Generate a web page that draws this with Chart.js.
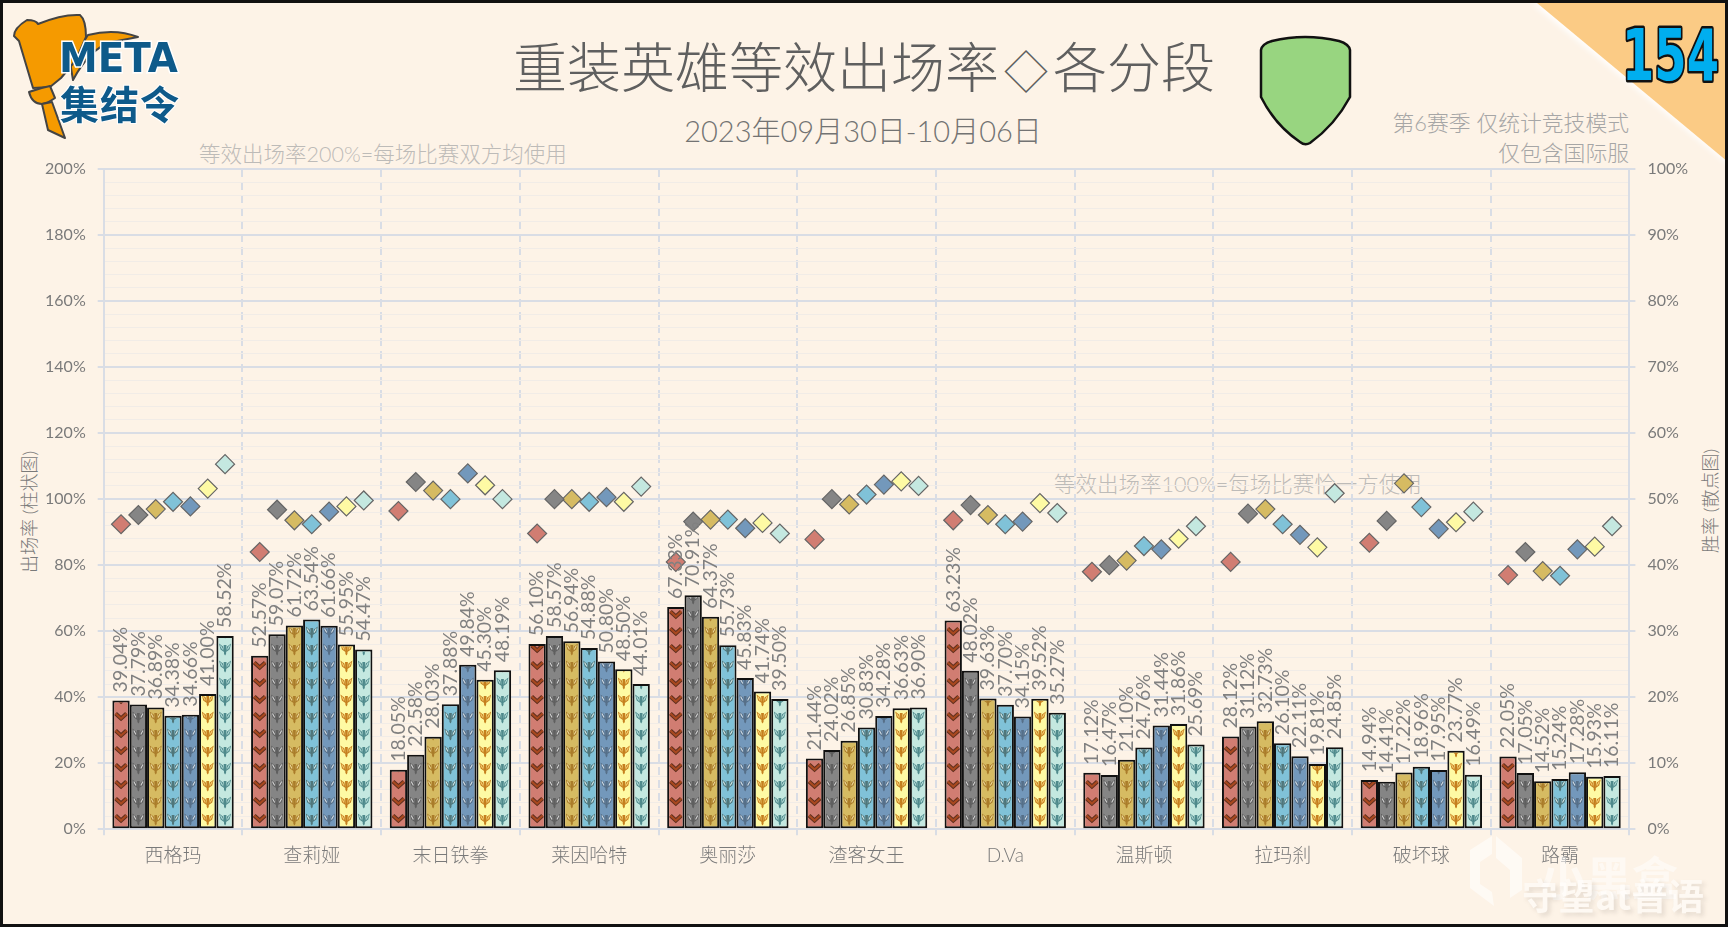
<!DOCTYPE html>
<html lang="zh">
<head>
<meta charset="utf-8">
<title>重装英雄等效出场率</title>
<script src="https://cdn.jsdelivr.net/npm/chart.js@4"></script>
<style>
  html, body { margin: 0; padding: 0; background: #fdf3e7; }
  body { width: 1728px; height: 927px; overflow: hidden; position: relative;
         font-family: Lato, "Noto Sans CJK SC", sans-serif; font-weight: 300; }
  .t { position: absolute; white-space: nowrap; line-height: 1; }
  .mid { transform: translate(-50%, -50%); }
  .rgt { transform: translate(-100%, -50%); }
  .rot { transform: translate(-50%, -50%) rotate(-90deg); }
  canvas { position: absolute; left: 0; top: 0; }
  svg { position: absolute; left: 0; top: 0; }
  #frame { position: absolute; inset: 0; border: 3px solid #111; box-sizing: border-box; }
</style>
</head>
<body>

<div class="t mid" style="left:864px;top:68px;font-size:54px;color:#5f5f5f">重装英雄等效出场率<span style="font-size:44px;margin:0 5px">◇</span>各分段</div>
<div class="t mid" style="left:863px;top:130px;font-size:29px;color:#737373">2023年09月30日-10月06日</div>
<div class="t" style="left:199px;top:144px;font-size:21.5px;color:#bdbbb8">等效出场率200%=每场比赛双方均使用</div>
<div class="t" style="left:1054px;top:474px;font-size:21.5px;color:#bdbbb8">等效出场率100%=每场比赛恰一方使用</div>
<div class="t rgt" style="left:1629px;top:123px;font-size:21.8px;color:#a6a6a6">第6赛季 仅统计竞技模式</div>
<div class="t rgt" style="left:1629px;top:153px;font-size:21.8px;color:#a6a6a6">仅包含国际服</div>
<div class="t rot" style="left:29px;top:512px;font-size:18px;color:#7a7a7a">出场率 (柱状图)</div>
<div class="t rot" style="left:1710px;top:501px;font-size:18px;color:#7a7a7a">胜率 (散点图)</div>

<canvas id="metaChart" width="1728" height="927"></canvas>

<svg width="1728" height="927" viewBox="0 0 1728 927">
  <defs><filter id="soft"><feGaussianBlur stdDeviation="3"/></filter></defs>
  <!-- corner -->
  <polygon points="1532,3 1728,3 1728,164" fill="#fff" filter="url(#soft)"/>
  <polygon points="1537,3 1728,3 1728,162" fill="#fbcb85"/>
  <text x="1622" y="80" textLength="97" lengthAdjust="spacingAndGlyphs" font-family="DejaVu Sans" font-weight="700" font-size="71"
        fill="#00aeef" stroke="#111" stroke-width="5" paint-order="stroke" stroke-linejoin="round">154</text>
  <!-- shield -->
  <path d="M1261,50 Q1262,44 1272,41 Q1305,33 1339,41 Q1349,44 1350,50 L1350,97 Q1335,125 1310,143 Q1305,146 1300,142 Q1275,125 1261,97 Z"
        fill="#98d580" stroke="#111" stroke-width="2.5"/>
  <!-- logo -->
  <g fill="#f59a00" stroke="#444" stroke-width="2" stroke-linejoin="round">
    <path d="M88,35 Q115,28 138,37 L112,42 Q90,48 73,80 L70,62 Z"/>
    <path d="M19,41 L14,36 Q14,28 27,20 Q36,20 38,24 Q62,14 80,15 Q86,20 86,37 L76,60 L61,78 L50,87 L33,88 Z"/>
    <path d="M29,92 Q40,88 50,86 L55,98 Q48,103 42,104 Q32,104 29,92 Z"/>
    <path d="M42,104 L52,102 L65,138 L48,130 Z"/>
  </g>
  <text x="59" y="72" textLength="119" lengthAdjust="spacingAndGlyphs" font-family="DejaVu Sans" font-weight="700" font-size="41"
        fill="#0e5a8a" stroke="#fff" stroke-width="3" paint-order="stroke">META</text>
  <text x="60" y="119" textLength="119" font-family="Noto Sans CJK SC" font-weight="700" font-size="39"
        fill="#0e5a8a" stroke="#fff" stroke-width="2" paint-order="stroke">集结令</text>
  <!-- watermark -->
  <g opacity="0.55" fill="#fff">
    <path d="M1470,850 L1492,836 L1492,854 L1480,862 L1480,884 L1492,892 L1494,906 L1470,888 Z M1496,836 L1522,858 L1522,890 L1510,898 L1510,870 L1496,858 Z"/>
  </g>
  <text x="1540" y="895" font-family="Noto Sans CJK SC" font-weight="700" font-size="46" fill="#fff" opacity="0.5">小黑盒</text>
  <text x="1522" y="910" textLength="182" font-family="Noto Sans CJK SC" font-weight="700" font-size="36" fill="#fff" opacity="0.5"
        style="filter:drop-shadow(3px 3px 2px rgba(120,110,100,.35))">守望at普语</text>
</svg>
<div id="frame"></div>

<script>
const heroes = ["西格玛","查莉娅","末日铁拳","莱因哈特","奥丽莎","渣客女王","D.Va","温斯顿","拉玛刹","破坏球","路霸"];

// 等效出场率, one list per tier
const pickBronze   = [39.04,52.57,18.05,56.10,67.33,21.44,63.23,17.12,28.12,14.94,22.05];
const pickSilver   = [37.79,59.07,22.58,58.57,70.91,24.02,48.02,16.47,31.12,14.41,17.05];
const pickGold     = [36.89,61.72,28.03,56.94,64.37,26.85,39.63,21.10,32.73,17.22,14.52];
const pickPlatinum = [34.38,63.54,37.88,54.88,55.73,30.83,37.70,24.76,26.10,18.96,15.24];
const pickDiamond  = [34.66,61.66,49.84,50.80,45.83,34.28,34.15,31.44,22.11,17.95,17.28];
const pickMaster   = [41.00,55.95,45.30,48.50,41.74,36.63,39.52,31.86,19.81,23.77,15.93];
const pickGrand    = [58.52,54.47,48.19,44.01,39.50,36.90,35.27,25.69,24.85,16.49,16.11];

// 胜率
const winBronze   = [46.2,42.0,48.2,44.8,40.5,43.9,46.8,39.0,40.5,43.4,38.5];
const winSilver   = [47.6,48.4,52.6,50.0,46.6,50.0,49.1,40.0,47.8,46.7,42.0];
const winGold     = [48.5,46.8,51.3,50.0,46.9,49.2,47.6,40.7,48.5,52.4,39.1];
const winPlatinum = [49.6,46.2,50.0,49.6,46.9,50.7,46.2,42.9,46.2,48.8,38.4];
const winDiamond  = [48.9,48.1,53.9,50.3,45.6,52.2,46.6,42.4,44.6,45.5,42.4];
const winMaster   = [51.6,48.9,52.1,49.6,46.4,52.7,49.4,44.0,42.7,46.5,42.8];
const winGrand    = [55.3,49.8,50.0,51.9,44.8,52.0,47.9,45.9,50.9,48.1,45.9];

const tierNames = ["青铜","白银","黄金","白金","钻石","大师","宗师"];
const pickRates = [pickBronze,pickSilver,pickGold,pickPlatinum,pickDiamond,pickMaster,pickGrand];
const winRates  = [winBronze,winSilver,winGold,winPlatinum,winDiamond,winMaster,winGrand];

const tierColors = ["#d17d72","#858585","#d6bb62","#80c2d8","#7398bb","#fefaa4","#c4e8e0"];
const iconColors = [
  {main:"#a8481f", edge:"#5e2f1e", hi:"#a8481f"},
  {main:"#5f5f5f", edge:"#5a5a5a", hi:"#d4d4d4"},
  {main:"#aa7c2a", edge:"#8a6a2a", hi:"#ecd898"},
  {main:"#50767a", edge:"#4a6e74", hi:"#cfe8ea"},
  {main:"#566f88", edge:"#506a82", hi:"#d0dce6"},
  {main:"#c57f1e", edge:"#a8701e", hi:"#f6cd70"},
  {main:"#4f8a8c", edge:"#4a7e82", hi:"#b4dcd8"}
];

const barFrac = 0.875;

const gridMajor = "#d9dde5";
const gridMinor = "#f1ece7";
const textGray = "#7a7a7a";

function drawChevron(ctx, x, y, c) {
  ctx.lineJoin = "miter";
  ctx.beginPath();
  ctx.moveTo(x - 5.5, y - 3.5);
  ctx.lineTo(x, y + 1.5);
  ctx.lineTo(x + 5.5, y - 3.5);
  ctx.strokeStyle = c.edge;
  ctx.lineWidth = 4.2;
  ctx.stroke();
  ctx.strokeStyle = c.main;
  ctx.lineWidth = 2.2;
  ctx.stroke();
}

function drawWing(ctx, x, y, c) {
  // two raised wings and a narrow body
  ctx.fillStyle = c.main;
  ctx.beginPath();
  ctx.moveTo(x - 6, y - 5.5);
  ctx.lineTo(x - 2, y - 2.5);
  ctx.lineTo(x - 1, y + 3);
  ctx.lineTo(x - 4.5, y + 0.5);
  ctx.closePath();
  ctx.moveTo(x + 6, y - 5.5);
  ctx.lineTo(x + 2, y - 2.5);
  ctx.lineTo(x + 1, y + 3);
  ctx.lineTo(x + 4.5, y + 0.5);
  ctx.closePath();
  ctx.moveTo(x - 1.4, y - 4);
  ctx.lineTo(x + 1.4, y - 4);
  ctx.lineTo(x + 1, y + 5);
  ctx.lineTo(x, y + 6.5);
  ctx.lineTo(x - 1, y + 5);
  ctx.closePath();
  ctx.fill();
  ctx.beginPath();
  ctx.moveTo(x - 4.6, y - 3.4);
  ctx.lineTo(x - 2.4, y + 0.6);
  ctx.moveTo(x + 4.6, y - 3.4);
  ctx.lineTo(x + 2.4, y + 0.6);
  ctx.strokeStyle = c.hi;
  ctx.lineWidth = 1.1;
  ctx.stroke();
}

// rank badges stacked inside each bar
const badgePlugin = {
  id: "badges",
  afterDatasetDraw(chart, args) {
    if (args.index >= 7) return;
    const ctx = chart.ctx;
    chart.getDatasetMeta(args.index).data.forEach(bar => {
      const p = bar.getProps(["x","y","base","width"], true);
      ctx.save();
      ctx.beginPath();
      ctx.rect(p.x - p.width / 2 + 2, p.y + 2, p.width - 4, p.base - p.y - 4);
      ctx.clip();
      for (let cy = p.base - 9.3; cy > p.y - 10; cy -= 17) {
        if (args.index == 0) drawChevron(ctx, p.x, cy, iconColors[0]);
        else drawWing(ctx, p.x, cy, iconColors[args.index]);
      }
      ctx.restore();
    });
  }
};

// rotated value labels, drawn last so they sit on top of the diamonds
const labelPlugin = {
  id: "valueLabels",
  afterDatasetsDraw(chart) {
    const ctx = chart.ctx;
    ctx.save();
    ctx.font = '400 19.5px Lato, "Noto Sans CJK SC"';
    ctx.fillStyle = "#808080";
    ctx.textAlign = "left";
    ctx.textBaseline = "middle";
    for (let s = 0; s < 7; s++) {
      chart.getDatasetMeta(s).data.forEach((bar, i) => {
        ctx.save();
        ctx.translate(bar.x, bar.y - 8);
        ctx.rotate(-Math.PI / 2);
        ctx.fillText(pickRates[s][i].toFixed(2) + "%", 0, 0);
        ctx.restore();
      });
    }
    ctx.restore();
  }
};

const datasets = [];
pickRates.forEach((vals, s) => {
  datasets.push({
    type: "bar",
    label: tierNames[s] + "出场率",
    data: vals,
    backgroundColor: tierColors[s],
    borderColor: "#111",
    borderWidth: 2,
    borderSkipped: false,
    barPercentage: 1,
    categoryPercentage: barFrac,
    yAxisID: "y",
    xAxisID: "x",
    order: 2
  });
});
winRates.forEach((vals, s) => {
  datasets.push({
    type: "scatter",
    label: tierNames[s] + "胜率",
    parsing: false,
    normalized: true,
    // x is a fractional category index, so each diamond sits over its tier's bar
    data: vals.map((v, i) => ({x: i - barFrac / 2 + (s + 0.5) * barFrac / 7, y: v})),
    pointStyle: "rectRot",
    pointRadius: 9.5,
    pointBackgroundColor: tierColors[s],
    pointBorderColor: "#666",
    pointBorderWidth: 1.2,
    xAxisID: "x",
    yAxisID: "yWin",
    order: 1
  });
});

const chart = new Chart(document.getElementById("metaChart").getContext("2d"), {
  type: "bar",
  data: {labels: heroes, datasets: datasets},
  plugins: [badgePlugin, labelPlugin],
  options: {
    responsive: false,
    animation: false,
    layout: {padding: {top: 169}},
    plugins: {legend: {display: false}, tooltip: {enabled: false}},
    scales: {
      x: {
        type: "category",
        offset: true,
        grid: {offset: true, color: gridMajor, lineWidth: 2, tickLength: 6, tickColor: gridMajor},
        border: {display: false, dash: [8, 5]},
        ticks: {color: textGray, font: {size: 19, family: 'Lato, "Noto Sans CJK SC"', weight: 300}, padding: 9, maxRotation: 0},
        afterFit(s) { s.height = 97.7; s.paddingLeft = 0; s.paddingRight = 0; }
      },
      y: {
        position: "left",
        min: 0,
        max: 200,
        grid: {
          color: c => c.tick.value % 20 == 0 ? gridMajor : gridMinor,
          lineWidth: c => c.tick.value % 20 == 0 ? 2 : 1,
          tickColor: c => c.tick.value % 20 == 0 ? gridMajor : "rgba(0,0,0,0)",
          tickLength: 6
        },
        border: {color: gridMajor, width: 2},
        ticks: {
          stepSize: 4,
          autoSkip: false,
          padding: 12,
          color: textGray,
          font: {size: 16, family: "Lato", weight: 400},
          callback: v => v % 20 == 0 ? v + "%" : ""
        },
        afterFit(s) { s.width = 103.7; s.paddingTop = 0; s.paddingBottom = 0; }
      },
      yWin: {
        position: "right",
        min: 0,
        max: 100,
        grid: {drawOnChartArea: false, color: gridMajor, lineWidth: 2, tickLength: 6},
        border: {color: gridMajor, width: 2},
        ticks: {
          stepSize: 10,
          padding: 12,
          color: textGray,
          font: {size: 16, family: "Lato", weight: 400},
          callback: v => v + "%"
        },
        afterFit(s) { s.width = 98.6; s.paddingTop = 0; s.paddingBottom = 0; }
      }
    }
  }
});
</script>
</body>
</html>
